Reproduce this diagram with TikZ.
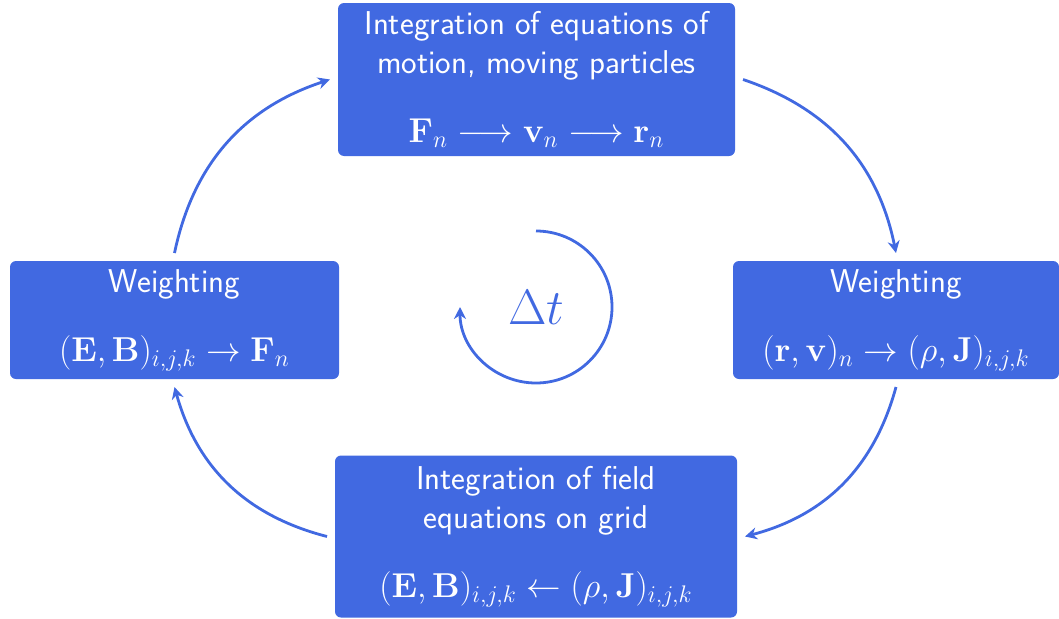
\documentclass[tikz,border=0pt]{standalone}
\usetikzlibrary{arrows.meta}
\definecolor{royal}{RGB}{65,105,225}

\begin{document}
\begin{tikzpicture}[
    x=0.5pt, y=0.5pt,
    every node/.style={font=\sffamily\fontsize{16.5}{19.5}\selectfont},
    stage/.style={rectangle, rounded corners=3pt, fill=royal, text=white, align=center, inner sep=0pt, outer sep=4pt},
    arrow/.style={-{Stealth[length=6pt, width=6pt]}, draw=royal, line width=1.4pt}
]
\useasboundingbox (0,0) rectangle (1059,618);

% Particle push
\node[stage, minimum width=198.5pt, minimum height=76.5pt] (push) at (536.5,538.5)
    {Integration of equations of\\motion, moving particles\\[15pt]$\mathbf{F}_n \longrightarrow \mathbf{v}_n \longrightarrow \mathbf{r}_n$};

% Weighting to grid / to particles
\node[stage, minimum width=163pt, minimum height=59pt] (togrid) at (896,298)
    {Weighting\\[15pt]$(\mathbf{r},\mathbf{v})_n \rightarrow (\rho,\mathbf{J})_{i,j,k}$};
\node[stage, minimum width=164.5pt, minimum height=59pt] (topart) at (174.5,298)
    {Weighting\\[15pt]$(\mathbf{E},\mathbf{B})_{i,j,k} \rightarrow \mathbf{F}_n$};

% Field solver
\node[stage, minimum width=201pt, minimum height=81pt] (solve) at (536,81.5)
    {Integration of field\\equations on grid\\[15pt]$(\mathbf{E},\mathbf{B})_{i,j,k} \leftarrow (\rho,\mathbf{J})_{i,j,k}$};

% Cycle
\draw[arrow] (push.east) to[bend left=30] (togrid.north);
\draw[arrow] (togrid.south) to[bend left=30] (solve.east);
\draw[arrow] (solve.west) to[bend left=30] (topart.south);
\draw[arrow] (topart.north) to[bend left=30] (push.west);

% Time step
\node[font=\fontsize{23.4}{28}\selectfont, text=royal] (dt) at (536,311) {$\Delta t$};
\draw[arrow] ([yshift=38pt]dt.center) arc[start angle=90, end angle=-180, radius=38pt];

\end{tikzpicture}
\end{document}
